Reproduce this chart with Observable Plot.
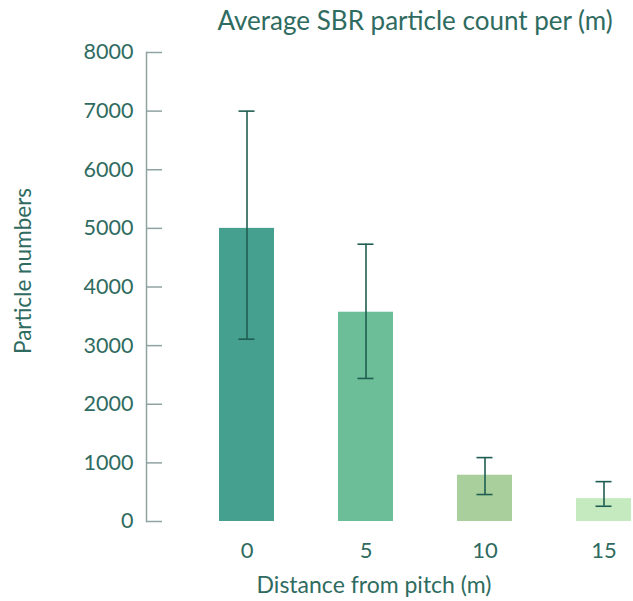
<!DOCTYPE html>
<html>
<head>
<meta charset="utf-8">
<script src="https://cdn.jsdelivr.net/npm/d3@7"></script>
<script src="https://cdn.jsdelivr.net/npm/@observablehq/plot@0.6"></script>
<style>
  body { margin: 0; background: #ffffff; }
  #chart svg { display: block; }
</style>
</head>
<body>
<div id="chart"></div>
<script>
// Average SBR particle counts by distance from the pitch, with error ranges
const distances = ["0", "5", "10", "15"];
const meanCounts = [5000, 3570, 790, 390];
const upperCounts = [7000, 4730, 1090, 680];
const lowerCounts = [3110, 2440, 460, 260];
const barColors = ["#46a08f", "#6cbe98", "#a9cf9c", "#c5eac0"];
const yTicks = [0, 1000, 2000, 3000, 4000, 5000, 6000, 7000, 8000];

const titleText = "Average SBR particle count per (m)";
const xLabel = "Distance from pitch (m)";
const yLabel = "Particle numbers";

const rows = distances.map((d, i) => ({
  distance: d,
  mean: meanCounts[i],
  hi: upperCounts[i],
  lo: lowerCounts[i],
  color: barColors[i]
}));

const textColor = "#2f6b60";
const axisColor = "#8fa3a0";
const errColor = "#1f5e51";

const W = 633, H = 601;
const mL = 146, mR = 0, mT = 52, mB = 80;
const frameW = W - mL - mR;

const chart = Plot.plot({
  width: W,
  height: H,
  marginLeft: mL,
  marginRight: mR,
  marginTop: mT,
  marginBottom: mB,
  style: { fontFamily: "Lato, sans-serif", fontSize: "21px", color: textColor, background: "#ffffff" },
  x: { domain: distances, range: [152.6, 697.4], padding: 0.54 },
  y: { domain: [0, 8000] },
  marks: [
    Plot.barY(rows, { x: "distance", y: "mean", fill: "color" }),
    Plot.ruleX(rows, { x: "distance", y1: "lo", y2: "hi", stroke: errColor, strokeWidth: 1.6 }),
    Plot.tickY(rows, { x: "distance", y: "hi", stroke: errColor, strokeWidth: 1.6, insetLeft: 19.5, insetRight: 19.5 }),
    Plot.tickY(rows, { x: "distance", y: "lo", stroke: errColor, strokeWidth: 1.6, insetLeft: 19.5, insetRight: 19.5 }),
    Plot.frame({ anchor: "left", stroke: axisColor, strokeWidth: 1.5 }),
    Plot.ruleY(yTicks, { y: d => d, stroke: axisColor, strokeWidth: 1.5, insetRight: frameW - 16 }),
    Plot.axisY({ ticks: yTicks, tickSize: 0, tickPadding: 13, tickFormat: d => String(d), label: null, fill: textColor, fontSize: 21.5 }),
    Plot.axisX({ tickSize: 0, tickPadding: 21, label: null, fill: textColor, fontSize: 22 }),
    Plot.text([titleText], { frameAnchor: "top-left", textAnchor: "start", lineAnchor: "middle", dx: 71, dy: -31, fill: textColor, fontSize: 26 }),
    Plot.text([yLabel], { frameAnchor: "left", textAnchor: "middle", lineAnchor: "middle", rotate: -90, dx: -123, dy: -16, fill: textColor, fontSize: 22.5 }),
    Plot.text([xLabel], { frameAnchor: "bottom", textAnchor: "middle", lineAnchor: "middle", dx: -16, dy: 64, fill: textColor, fontSize: 23 })
  ]
});

document.getElementById("chart").appendChild(chart);
</script>
</body>
</html>
